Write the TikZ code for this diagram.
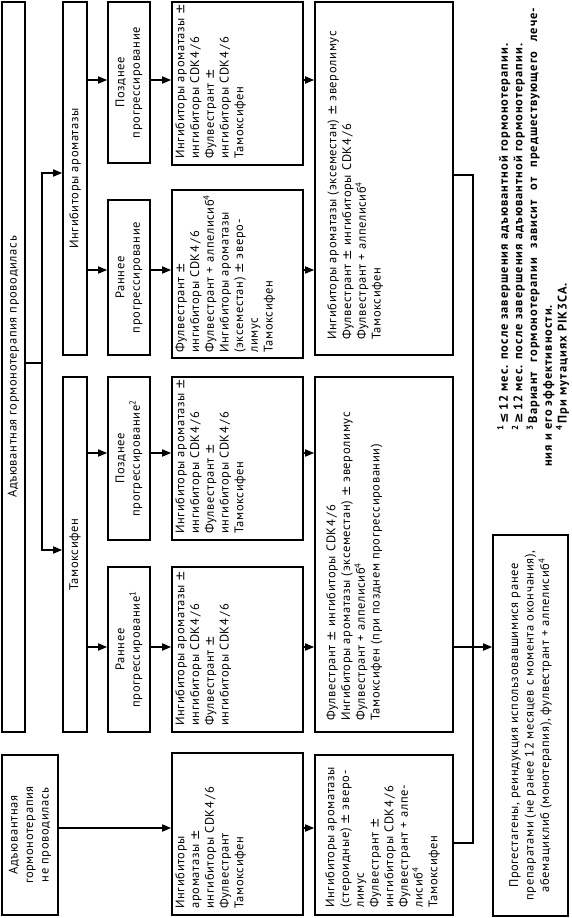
\documentclass[tikz,border=0pt]{standalone}
\usepackage{fontspec}
\setmainfont{PT Sans}[LetterSpace=5.2]
\newfontfamily\fnfont{PT Sans}[LetterSpace=8]
\newfontfamily\symf{DejaVu Sans}
\usetikzlibrary{arrows.meta}
\begin{document}
\begin{tikzpicture}[x=1pt,y=1pt,
  box/.style={draw, line width=1.6pt, rotate=90, inner sep=0pt},
  cbox/.style={box, align=center, font=\fontsize{12.5}{15.5}\selectfont},
  ltxt/.style={rotate=90, anchor=north west, align=left, inner sep=0pt, font=\fontsize{12.5}{14.7}\selectfont},
  conn/.style={line width=1.6pt},
  arr/.style={line width=1.6pt, -{Triangle[length=9pt,width=7pt]}},
]
\useasboundingbox (0,0) rectangle (571,-918);
\fill[white] (0,0) rectangle (571,-918);
% column 1
\node[cbox, minimum width=730pt, minimum height=23pt] (A0) at (13.5,-367) {Адъювантная гормонотерапия проводилась};
\node[cbox, minimum width=160pt, minimum height=56pt] (N0) at (30,-835) {Адъювантная\\гормонотерапия\\не проводилась};
% column 2
\node[cbox, minimum width=353pt, minimum height=24pt] (AI) at (75,-178.5) {Ингибиторы ароматазы};
\node[cbox, minimum width=355pt, minimum height=24pt] (TAM) at (75,-554.5) {Тамоксифен};
% column 3
\node[cbox, minimum width=161pt, minimum height=42pt] (AIL3) at (129,-82.5) {Позднее\\прогрессирование};
\node[cbox, minimum width=155pt, minimum height=42pt] (AIE3) at (129,-277.5) {Раннее\\прогрессирование};
\node[cbox, minimum width=163pt, minimum height=42pt] (TL3) at (129,-458.5) {Позднее\\прогрессирование\textsuperscript{2}};
\node[cbox, minimum width=165pt, minimum height=42pt] (TE3) at (129,-649.5) {Раннее\\прогрессирование\textsuperscript{1}};
% column 4
\node[box, minimum width=163pt, minimum height=131pt] (AIL4) at (237.5,-83.5) {};
\node[box, minimum width=168pt, minimum height=131pt] (AIE4) at (237.5,-274) {};
\node[box, minimum width=163pt, minimum height=131pt] (TL4) at (237.5,-458.5) {};
\node[box, minimum width=165pt, minimum height=131pt] (TE4) at (237.5,-649.5) {};
\node[box, minimum width=162pt, minimum height=131pt] (N4) at (237.5,-834) {};
\node[ltxt] (tAIL4) at ([shift={(4,7)}]AIL4.north west) {Ингибиторы ароматазы {\symf ±}\\ингибиторы CDK4\,/\,6\\Фулвестрант {\symf ±}\\ингибиторы CDK4\,/\,6\\Тамоксифен};
\node[ltxt] (tAIE4) at ([shift={(4,6)}]AIE4.north west) {Фулвестрант {\symf ±}\\ингибиторы CDK4\,/\,6\\Фулвестрант + алпелисиб\textsuperscript{4}\\Ингибиторы ароматазы\\(эксеместан) {\symf ±} эверо-\\лимус\\Тамоксифен};
\node[ltxt] (tTL4) at ([shift={(4,7)}]TL4.north west) {Ингибиторы ароматазы {\symf ±}\\ингибиторы CDK4\,/\,6\\Фулвестрант {\symf ±}\\ингибиторы CDK4\,/\,6\\Тамоксифен};
\node[ltxt] (tTE4) at ([shift={(4,7)}]TE4.north west) {Ингибиторы ароматазы {\symf ±}\\ингибиторы CDK4\,/\,6\\Фулвестрант {\symf ±}\\ингибиторы CDK4\,/\,6};
\node[ltxt] (tN4) at ([shift={(4,7)}]N4.north west) {Ингибиторы\\ароматазы {\symf ±}\\ингибиторы CDK4\,/\,6\\Фулвестрант\\Тамоксифен};
% column 5
\node[box, minimum width=353pt, minimum height=138pt] (AI5) at (384,-178.5) {};
\node[box, minimum width=355pt, minimum height=138pt] (T5) at (384,-554.5) {};
\node[box, minimum width=160pt, minimum height=138pt] (N5) at (384,-835) {};
\node[ltxt] (tAI5) at ([shift={(13,16)}]AI5.north west) {Ингибиторы ароматазы (эксеместан) {\symf ±} эверолимус\\Фулвестрант {\symf ±} ингибиторы CDK4\,/\,6\\Фулвестрант + алпелисиб\textsuperscript{4}\\Тамоксифен};
\node[ltxt] (tT5) at ([shift={(12,12)}]T5.north west) {Фулвестрант {\symf ±} ингибиторы CDK4\,/\,6\\Ингибиторы ароматазы (эксеместан) {\symf ±} эверолимус\\Фулвестрант + алпелисиб\textsuperscript{4}\\Тамоксифен (при позднем прогрессировании)};
\node[ltxt] (tN5) at ([shift={(11,8)}]N5.north west) {Ингибиторы ароматазы\\(стероидные) {\symf ±} эверо-\\лимус\\Фулвестрант {\symf ±}\\ингибиторы CDK4\,/\,6\\Фулвестрант + алпе-\\лисиб\textsuperscript{4}\\Тамоксифен};
% final box
\node[box, align=center, font=\fontsize{12.5}{15.5}\selectfont, minimum width=381pt, minimum height=75pt] (P) at (530.5,-725.5) {Прогестагены, реиндукция использовавшимися ранее\\препаратами (не ранее 12 месяцев с момента окончания),\\абемациклиб (монотерапия), фулвестрант + алпелисиб\textsuperscript{4}};
% footnotes
\node[rotate=90, anchor=north west, inner sep=0pt, text width=459pt, align=justify, font=\fnfont\bfseries\fontsize{12.5}{14.7}\selectfont] (fn) at (497,-467) {%
\hspace*{36pt}\textsuperscript{1}\,{\symf ≤}\,12 мес. после завершения адъювантной гормонотерапии.\par
\hspace*{36pt}\textsuperscript{2}\,{\symf ≥}\,12 мес. после завершения адъювантной гормонотерапии.\par
\hspace*{36pt}\textsuperscript{3}\,Вариант гормонотерапии зависит от предшествующего лече-\linebreak ния и его эффективности.\par
\hspace*{36pt}\textsuperscript{4}\,При мутациях PIK3CA.};
% connectors
\coordinate (j1) at (42,-363);
\draw[conn] (A0.south |- j1) -- (j1);
\draw[arr] (j1) |- (AI.north |- 0,-173);
\draw[arr] (j1) |- (TAM.north |- 0,-550);
\foreach \a/\b/\y in {AI/AIL3/80, AI/AIE3/270, TAM/TL3/453, TAM/TE3/647,
                      AIL3/AIL4/80, AIE3/AIE4/270, TL3/TL4/453, TE3/TE4/647,
                      AIL4/AI5/80, AIE4/AI5/270, TL4/T5/453, TE4/T5/647,
                      N0/N4/828, N4/N5/828, T5/P/647}
  \draw[arr] (\a.south |- 0,-\y) -- (\b.north |- 0,-\y);
\coordinate (j2) at (473,-175);
\coordinate (j3) at (473,-843);
\draw[conn] (AI5.south |- j2) -- (j2) -- (j3) -- (N5.south |- j3);
\end{tikzpicture}
\end{document}
